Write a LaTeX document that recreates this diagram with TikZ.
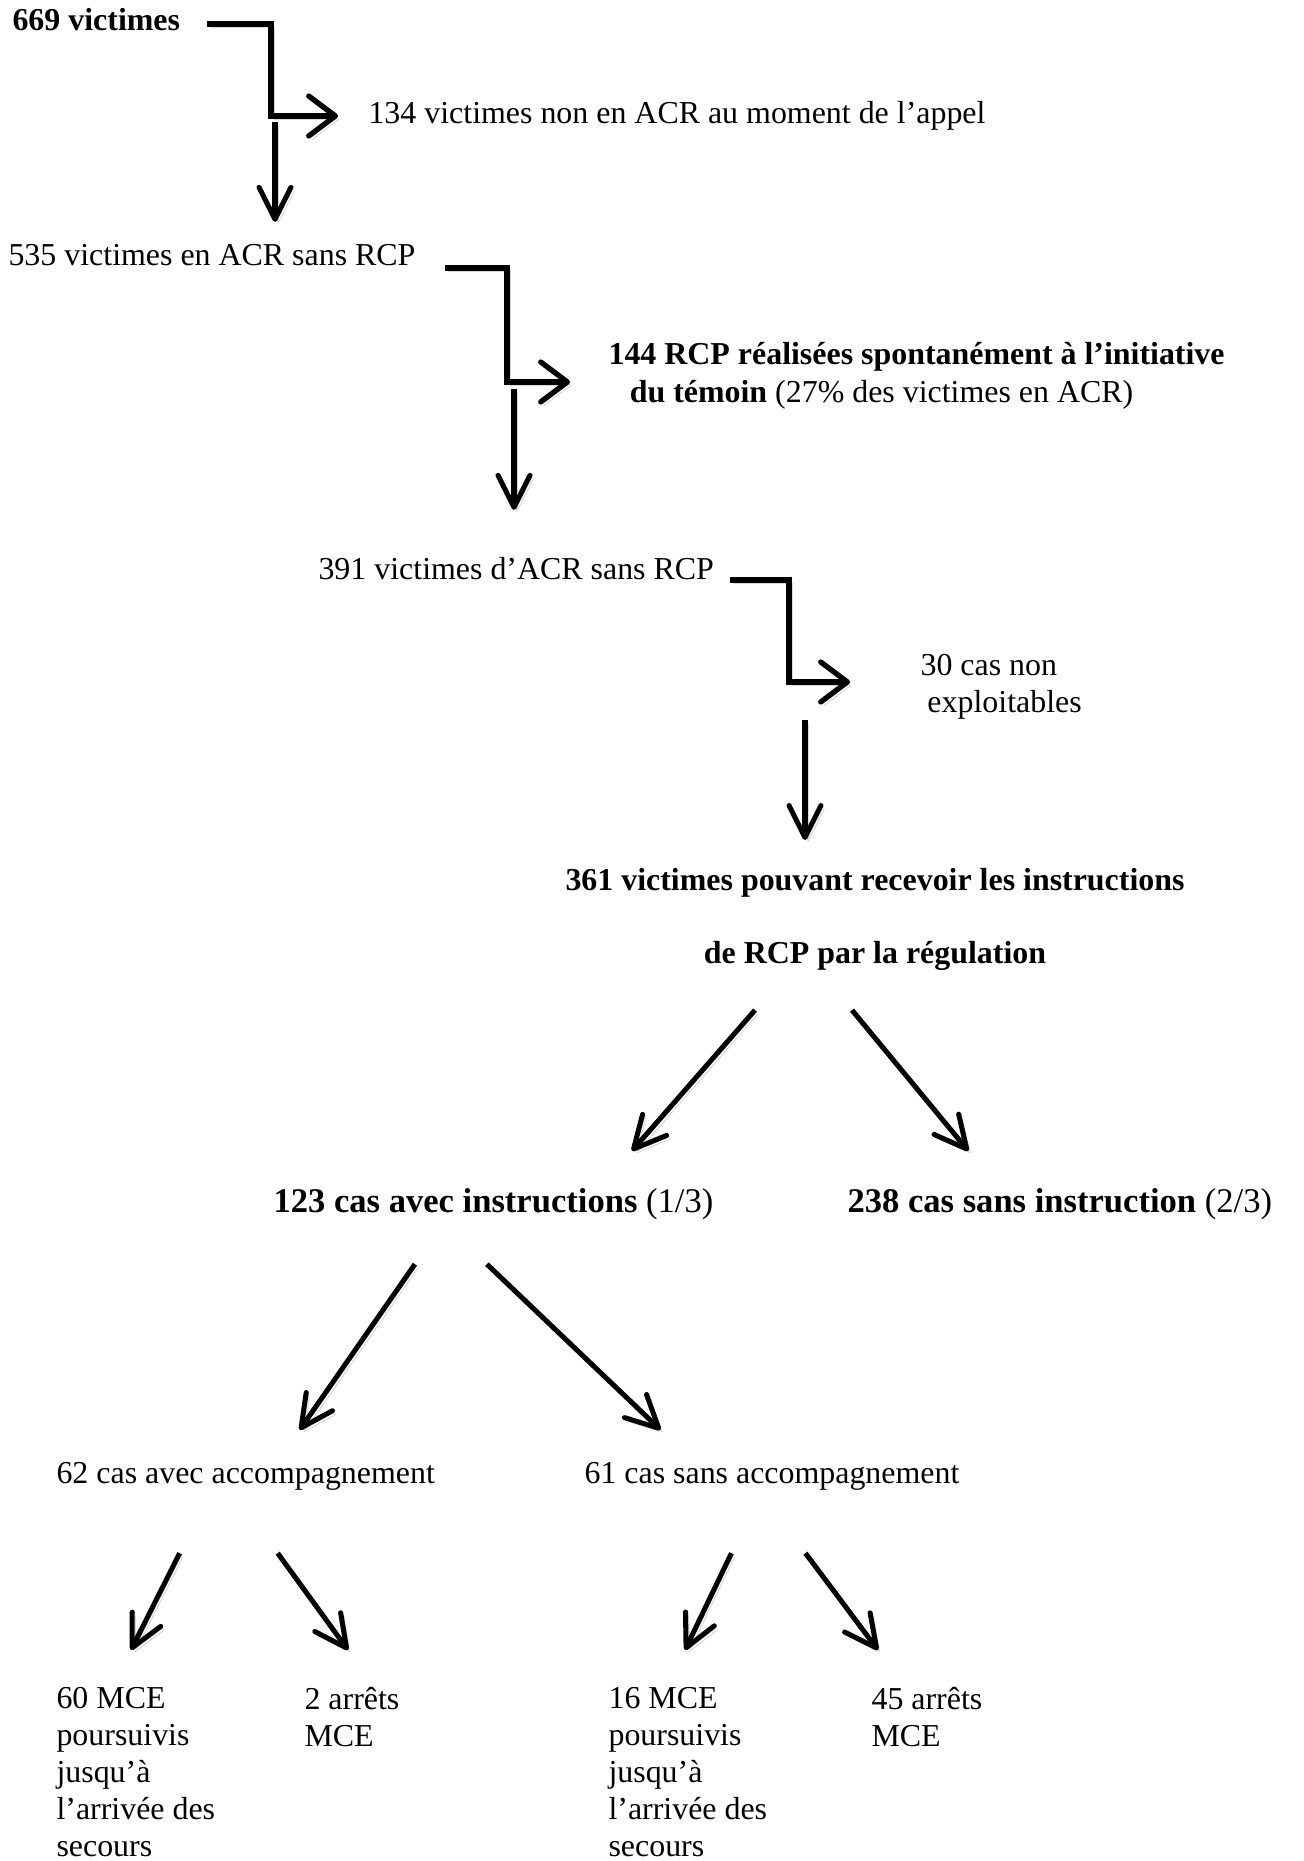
\documentclass[tikz,border=0pt]{standalone}
\usepackage{fontspec}
\setmainfont{Liberation Serif}
\usepackage{tikz}
\usetikzlibrary{arrows.meta,calc,positioning}
\tikzset{oneline/.style={inner sep=0pt, anchor=base west, text height=8.5pt, text depth=2.5pt, font=\fontsize{12}{14}\selectfont}}
\tikzset{multiline/.style={inner sep=0pt, anchor=north west, align=left, font=\fontsize{12}{13.9}\selectfont}}
\tikzset{shade arrow/.style={preaction={draw=black!15, transform canvas={shift={(1.2pt,-1.4pt)}}}}}
\tikzset{elbow/.style={shade arrow, line width=2pt, line join=miter, -{Straight Barb[round,length=10pt,width=15pt]}}}
\tikzset{fall/.style={shade arrow, line width=1.9pt, -{Straight Barb[round,length=12pt,width=12pt]}}}

\begin{document}
\begin{tikzpicture}[x=0.376pt, y=-0.376pt]
  % page size of the original figure
  \path[fill=white] (0,0) rectangle (1303,1861);

  % The chain of victims, each one split by an elbow arrow.
  \node[oneline] (v669) at (12,31) {\textbf{669 victimes}};
  \node[oneline] (n134) at (368,124) {134 victimes non en ACR au moment de l’appel};
  \node[oneline] (v535) at (8,266) {535 victimes en ACR sans RCP};
  \node[multiline, font=\fontsize{12}{14.3}\selectfont] (r144) at (608,342)
    {\textbf{144 RCP réalisées spontanément à l’initiative}\\\hspace*{8pt}\textbf{du témoin} (27\% des victimes en ACR)};
  \node[oneline] (v391) at (318,580) {391 victimes d’ACR sans RCP};
  \node[multiline] (c30) at (920,654) {30 cas non\\\hspace*{2.6pt}exploitables};
  \node[multiline, anchor=north, align=center, font=\bfseries\fontsize{12}{27.4}\selectfont] (v361) at (875,868)
    {361 victimes pouvant recevoir les instructions\\de RCP par la régulation};

  % Now the two kinds of regulation
  \node[oneline, font=\fontsize{13}{15}\selectfont] (i123) at (273,1212) {\textbf{123 cas avec instructions} (1/3)};
  \node[oneline, font=\fontsize{13}{15}\selectfont] (s238) at (847,1212) {\textbf{238 cas sans instruction} (2/3)};
  \node[oneline] (a62) at (56,1483) {62 cas avec accompagnement};
  \node[oneline] (s61) at (584,1483) {61 cas sans accompagnement};

  % leaves
  \node[multiline] (m60) at (56,1687) {60 MCE\\poursuivis\\jusqu’à\\l’arrivée des\\secours};
  \node[multiline] (m2) at (304,1687) {2 arrêts\\MCE};
  \node[multiline] (m16) at (608,1687) {16 MCE\\poursuivis\\jusqu’à\\l’arrivée des\\secours};
  \node[multiline] (m45) at (871,1687) {45 arrêts\\MCE};

  % elbows and straight arrows down the chain
  \draw[elbow] ($(v669.east)+(26,1)$) -| ($(n134.west)+(-97,0)$) -- ($(n134.west)+(-30,0)$);
  \draw[fall] ($(v535.north west)+(267,-121)$) -- ($(v535.north west)+(267,-21)$);
  \draw[elbow] ($(v535.east)+(29,10)$) -| ($(r144.north west)+(-101,40)$) -- ($(r144.north west)+(-38,40)$);
  \draw[fall] ($(v391.north west)+(196,-168)$) -- ($(v391.north west)+(196,-47)$);
  \draw[elbow] ($(v391.east)+(16,8)$) -| ($(c30.north west)+(-131,28)$) -- ($(c30.north west)+(-70,28)$);
  \draw[fall] ($(v361.north)+(-70,-148)$) -- ($(v361.north)+(-70,-28)$);

  % the tree
  \draw[fall] ($(v361.south)+(-120,39)$) -- ($(i123.north)+(138.5,-38)$);
  \draw[fall] ($(v361.south)+(-23,39)$) -- ($(s238.north)+(-91.5,-38)$);
  \draw[fall] ($(i123.south)+(-78.5,45)$) -- ($(a62.north)+(54,-30)$);
  \draw[fall] ($(i123.south)+(-6.5,45)$) -- ($(s61.north)+(-111.5,-30)$);
  \draw[fall] ($(a62.south)+(-66,63)$) -- ($(m60.north west)+(75,-37)$);
  \draw[fall] ($(a62.south)+(32,63)$) -- ($(m2.north west)+(44,-37)$);
  \draw[fall] ($(s61.south)+(-40.5,63)$) -- ($(m16.north west)+(77,-37)$);
  \draw[fall] ($(s61.south)+(33.5,63)$) -- ($(m45.north west)+(7,-37)$);
\end{tikzpicture}
\end{document}
